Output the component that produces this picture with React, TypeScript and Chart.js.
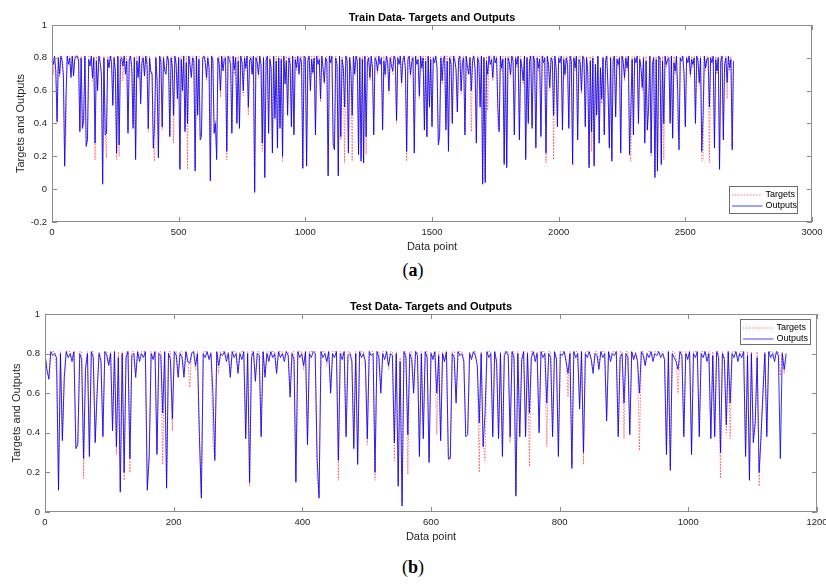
import React, { useEffect, useRef } from "react";
import { Chart, registerables } from "chart.js";

Chart.register(...registerables);

// ---------- DATA ----------
const seriesLabels = ["Targets", "Outputs"];
const xAxisTitle = "Data point";
const yAxisTitle = "Targets and Outputs";
const trainTitle = "Train Data- Targets and Outputs";
const testTitle = "Test Data- Targets and Outputs";

const trainXTicks = [0, 500, 1000, 1500, 2000, 2500, 3000];
const trainYTicks = [-0.2, 0, 0.2, 0.4, 0.6, 0.8, 1];
const testXTicks = [0, 200, 400, 600, 800, 1000, 1200];
const testYTicks = [0, 0.2, 0.4, 0.6, 0.8, 1];

// one value every TRAIN_STEP data points
const TRAIN_STEP = 5;
const trainOutputs = [
  .8,.76,.81,.72,.41,.8,.7,.81,.78,.69,.14,.55,.81,.76,.8,.68,.81,.69,.79,.81,
  .81,.78,.35,.8,.37,.42,.81,.26,.3,.79,.75,.81,.68,.8,.28,.78,.6,.81,.77,.7,
  .03,.8,.33,.34,.79,.74,.81,.77,.51,.8,.72,.22,.81,.27,.79,.8,.75,.81,.7,.78,
  .34,.79,.81,.74,.37,.8,.18,.78,.68,.81,.52,.77,.8,.69,.81,.76,.37,.8,.72,.7,
  .25,.4,.8,.66,.19,.81,.77,.38,.8,.72,.7,.81,.78,.32,.8,.74,.45,.81,.76,.55,
  .8,.12,.79,.6,.81,.35,.77,.4,.81,.75,.68,.8,.78,.11,.81,.45,.79,.3,.32,.8,
  .81,.77,.68,.8,.74,.05,.81,.78,.34,.4,.18,.8,.76,.6,.81,.72,.79,.8,.23,.81,
  .79,.76,.34,.81,.73,.8,.4,.78,.37,.81,.77,.6,.8,.74,.81,.5,.78,.8,.7,.81,
  -.02,.8,.77,.7,.81,.76,.28,.8,.07,.78,.81,.34,.79,.74,.22,.81,.43,.78,.25,.8,
  .37,.79,.2,.81,.64,.78,.45,.8,.76,.38,.81,.33,.79,.74,.81,.7,.8,.77,.13,.81,
  .8,.14,.78,.81,.6,.79,.71,.8,.33,.81,.76,.79,.55,.81,.74,.65,.8,.78,.08,.81,
  .77,.81,.28,.24,.8,.76,.08,.81,.32,.79,.74,.5,.81,.78,.22,.8,.72,.45,.81,.7,
  .81,.78,.21,.8,.17,.79,.16,.81,.32,.77,.8,.68,.81,.74,.33,.8,.78,.72,.81,.76,
  .8,.36,.78,.7,.81,.77,.6,.8,.75,.72,.81,.79,.42,.8,.76,.81,.65,.78,.81,.74,
  .23,.79,.81,.7,.77,.8,.22,.81,.76,.79,.57,.81,.74,.8,.36,.78,.32,.81,.5,.79,
  .38,.8,.77,.81,.74,.27,.32,.8,.66,.79,.81,.36,.78,.23,.8,.76,.4,.81,.78,.73,
  .47,.79,.81,.6,.77,.8,.33,.81,.75,.7,.8,.6,.78,.81,.74,.28,.8,.77,.5,.81,
  .03,.8,.04,.78,.7,.81,.76,.79,.68,.81,.77,.8,.5,.35,.81,.74,.79,.15,.8,.13,
  .8,.77,.7,.81,.78,.33,.8,.76,.81,.3,.79,.74,.66,.81,.18,.8,.4,.78,.81,.37,
  .81,.78,.25,.8,.74,.79,.32,.81,.77,.8,.22,.81,.76,.62,.8,.78,.45,.81,.74,.38,
  .8,.77,.81,.36,.79,.7,.8,.76,.37,.81,.78,.15,.8,.74,.81,.3,.79,.77,.6,.81,
  .79,.38,.8,.72,.13,.78,.35,.8,.14,.76,.45,.81,.28,.74,.55,.8,.33,.78,.81,.6,
  .25,.8,.17,.78,.81,.44,.79,.76,.8,.22,.81,.77,.68,.8,.74,.81,.21,.5,.79,.33,
  .8,.77,.81,.4,.79,.74,.62,.8,.28,.78,.36,.5,.81,.22,.76,.8,.07,.79,.11,.81,
  .8,.15,.78,.4,.81,.76,.79,.8,.4,.81,.31,.77,.72,.81,.6,.24,.8,.78,.81,.7,
  .38,.8,.77,.81,.7,.79,.76,.8,.4,.81,.78,.65,.8,.23,.45,.81,.74,.79,.8,.5,
  .8,.77,.81,.25,.79,.72,.8,.12,.78,.81,.3,.76,.8,.65,.81,.74,.79,.24,.78,
];
const trainTargets = [
  .81,.7,.81,.72,.43,.81,.68,.81,.81,.7,.16,.32,.81,.81,.81,.7,.81,.7,.81,.81,
  .81,.81,.36,.81,.38,.4,.81,.27,.3,.81,.81,.81,.66,.81,.18,.81,.62,.81,.81,.7,
  .05,.81,.35,.19,.81,.74,.81,.81,.53,.81,.7,.18,.81,.2,.81,.81,.66,.81,.72,.81,
  .36,.81,.81,.72,.4,.81,.2,.81,.7,.81,.55,.81,.81,.7,.81,.81,.35,.81,.7,.71,
  .27,.17,.81,.62,.2,.81,.81,.36,.81,.74,.72,.81,.81,.33,.81,.81,.28,.81,.8,.58,
  .81,.14,.81,.62,.81,.37,.81,.12,.81,.81,.7,.81,.81,.13,.81,.47,.81,.32,.36,.81,
  .81,.81,.66,.81,.72,.07,.81,.81,.35,.42,.22,.81,.81,.56,.81,.74,.81,.81,.18,.81,
  .81,.81,.36,.81,.7,.81,.42,.81,.38,.81,.81,.57,.81,.72,.81,.45,.81,.81,.7,.81,
  0,.81,.81,.68,.81,.74,.23,.81,.09,.81,.81,.36,.81,.72,.24,.81,.45,.81,.27,.81,
  .39,.81,.17,.81,.66,.81,.47,.81,.81,.4,.81,.35,.81,.72,.81,.72,.81,.81,.12,.81,
  .81,.16,.81,.81,.62,.81,.7,.81,.35,.81,.81,.81,.53,.81,.72,.64,.81,.81,.1,.81,
  .81,.81,.26,.24,.81,.75,.1,.81,.3,.81,.72,.16,.81,.81,.24,.81,.7,.17,.81,.72,
  .81,.81,.23,.81,.19,.81,.16,.81,.21,.81,.81,.66,.81,.72,.35,.81,.81,.7,.81,.81,
  .81,.38,.81,.68,.81,.81,.58,.81,.81,.7,.81,.81,.4,.81,.81,.81,.63,.81,.81,.72,
  .17,.81,.81,.68,.81,.81,.25,.81,.81,.81,.55,.81,.72,.81,.38,.81,.32,.81,.52,.81,
  .4,.81,.81,.81,.72,.29,.34,.81,.64,.81,.81,.4,.81,.25,.81,.81,.42,.81,.81,.7,
  .49,.81,.81,.58,.81,.81,.35,.81,.72,.7,.81,.35,.81,.81,.72,.3,.81,.81,.52,.81,
  .05,.81,.06,.81,.48,.81,.81,.81,.66,.81,.81,.81,.37,.36,.81,.72,.81,.17,.81,.15,
  .81,.81,.68,.81,.81,.35,.81,.74,.81,.32,.81,.72,.64,.81,.2,.81,.42,.81,.81,.39,
  .81,.81,.27,.81,.72,.81,.34,.81,.81,.81,.16,.81,.74,.6,.81,.81,.18,.81,.72,.4,
  .81,.81,.81,.38,.81,.68,.81,.81,.39,.81,.81,.17,.81,.72,.81,.32,.81,.81,.58,.81,
  .81,.4,.81,.7,.15,.81,.23,.81,.16,.74,.47,.81,.3,.72,.52,.81,.35,.81,.81,.62,
  .27,.81,.19,.81,.81,.46,.81,.74,.81,.24,.81,.81,.66,.81,.72,.81,.22,.17,.81,.35,
  .81,.81,.81,.42,.81,.72,.6,.81,.3,.81,.36,.48,.81,.2,.74,.81,.09,.81,.13,.81,
  .81,.17,.81,.18,.81,.74,.81,.81,.42,.81,.33,.81,.7,.81,.37,.3,.81,.81,.81,.68,
  .4,.81,.81,.81,.68,.81,.74,.81,.42,.81,.81,.63,.81,.17,.18,.81,.72,.81,.81,.16,
  .81,.81,.81,.27,.81,.7,.81,.14,.81,.81,.32,.74,.81,.55,.81,.72,.81,.26,.76,
];

// one value every TEST_STEP data points
const TEST_STEP = 3;
const testOutputs = [
  .8,.72,.67,.81,.79,.8,.78,.11,.8,.36,.68,.81,.78,.8,.76,.81,.32,.34,.8,.77,
  .27,.72,.8,.28,.81,.78,.35,.6,.8,.76,.38,.81,.79,.74,.8,.41,.81,.33,.78,.1,
  .8,.2,.78,.81,.27,.79,.8,.68,.81,.76,.8,.78,.81,.11,.28,.8,.77,.81,.29,.8,
  .79,.5,.81,.12,.8,.77,.47,.81,.79,.68,.8,.78,.68,.81,.76,.75,.8,.81,.74,.8,
  .38,.07,.8,.78,.81,.77,.8,.6,.26,.81,.74,.8,.79,.81,.76,.8,.68,.81,.78,.8,
  .7,.8,.77,.81,.37,.8,.15,.78,.81,.66,.8,.79,.38,.81,.68,.8,.76,.81,.78,.8,
  .7,.81,.78,.8,.76,.81,.79,.58,.8,.77,.15,.81,.78,.8,.74,.81,.34,.8,.78,.81,
  .8,.27,.07,.81,.78,.8,.76,.81,.6,.8,.78,.81,.26,.8,.77,.81,.38,.79,.8,.76,
  .32,.8,.24,.81,.78,.8,.76,.37,.81,.79,.8,.2,.81,.78,.6,.8,.77,.81,.74,.8,
  .79,.35,.8,.13,.76,.03,.81,.78,.39,.8,.77,.6,.81,.79,.28,.8,.37,.81,.78,.25,
  .8,.77,.81,.6,.79,.36,.8,.76,.81,.27,.27,.8,.78,.55,.81,.79,.8,.76,.38,.39,
  .8,.77,.81,.79,.74,.45,.8,.33,.5,.81,.78,.8,.38,.81,.76,.37,.8,.28,.79,.81,
  .79,.38,.81,.78,.08,.8,.38,.77,.81,.38,.8,.5,.78,.81,.76,.8,.4,.81,.78,.8,
  .55,.8,.78,.38,.81,.77,.28,.8,.79,.81,.76,.7,.8,.22,.81,.78,.8,.52,.81,.3,
  .8,.78,.81,.77,.7,.8,.79,.72,.81,.78,.8,.46,.81,.76,.8,.79,.81,.38,.78,.8,
  .55,.8,.78,.39,.81,.77,.8,.76,.6,.81,.79,.74,.8,.78,.81,.76,.8,.79,.81,.78,
  .8,.77,.29,.81,.21,.8,.78,.76,.72,.81,.79,.38,.8,.77,.81,.29,.8,.78,.81,.38,
  .8,.78,.81,.76,.8,.37,.79,.38,.81,.78,.3,.8,.77,.44,.81,.55,.8,.78,.81,.76,
  .8,.78,.81,.28,.79,.16,.8,.35,.45,.78,.2,.38,.6,.8,.38,.81,.78,.8,.76,.81,
  .79,.27,.8,.72,.8,
];
const testTargets = [
  .81,.7,.68,.81,.81,.81,.7,.13,.81,.38,.7,.81,.81,.81,.78,.81,.33,.35,.81,.81,
  .17,.74,.81,.3,.81,.81,.36,.62,.81,.78,.39,.81,.81,.75,.81,.43,.81,.29,.81,.12,
  .81,.16,.81,.81,.2,.81,.81,.7,.81,.78,.81,.81,.81,.13,.3,.81,.78,.81,.31,.81,
  .81,.24,.81,.14,.81,.81,.41,.81,.81,.7,.81,.81,.7,.81,.78,.63,.81,.81,.72,.81,
  .4,.09,.81,.81,.81,.78,.81,.35,.28,.81,.7,.81,.81,.81,.78,.81,.7,.81,.81,.81,
  .72,.81,.81,.81,.39,.81,.13,.81,.81,.68,.81,.81,.4,.81,.7,.81,.78,.81,.81,.81,
  .72,.81,.81,.81,.78,.81,.81,.6,.81,.81,.17,.81,.81,.81,.72,.81,.36,.81,.81,.81,
  .81,.17,.09,.81,.81,.81,.74,.81,.62,.81,.81,.81,.16,.81,.79,.81,.4,.81,.81,.78,
  .34,.81,.26,.81,.81,.81,.72,.34,.81,.81,.81,.16,.81,.81,.62,.81,.81,.81,.72,.81,
  .81,.26,.81,.15,.78,.05,.81,.81,.19,.81,.81,.62,.81,.81,.3,.81,.39,.81,.81,.27,
  .81,.78,.81,.39,.81,.38,.81,.76,.81,.26,.29,.81,.81,.57,.81,.81,.81,.78,.4,.41,
  .81,.78,.81,.81,.72,.2,.81,.35,.26,.81,.81,.81,.4,.81,.74,.39,.81,.3,.81,.81,
  .81,.35,.81,.81,.1,.81,.4,.76,.81,.4,.81,.23,.81,.81,.78,.81,.42,.81,.81,.81,
  .33,.81,.81,.4,.81,.78,.3,.81,.81,.81,.78,.58,.81,.24,.81,.81,.81,.54,.81,.24,
  .81,.81,.81,.78,.72,.81,.81,.74,.81,.81,.81,.48,.81,.78,.81,.81,.81,.4,.81,.81,
  .37,.81,.81,.41,.81,.78,.81,.78,.31,.81,.81,.74,.81,.81,.81,.78,.81,.81,.81,.8,
  .81,.78,.31,.81,.23,.81,.81,.78,.6,.81,.81,.4,.81,.78,.81,.31,.81,.81,.81,.4,
  .81,.81,.81,.78,.81,.39,.81,.4,.81,.81,.17,.81,.78,.4,.81,.37,.81,.81,.81,.78,
  .81,.81,.81,.3,.81,.18,.81,.37,.47,.81,.13,.4,.62,.81,.4,.81,.81,.81,.78,.81,
  .81,.69,.81,.7,.78,
];

// ---------- STYLE ----------
const FONT = '"Liberation Sans", Arial, Helvetica, sans-serif';
const FRAME = "#8c8c8c";
const TEXT = "#262626";
const TARGET_COLOR = "rgba(255,30,30,0.6)";
const OUTPUT_COLOR = "rgba(0,0,255,0.82)";
const LEGEND_OUTPUT_COLOR = "rgb(70,70,255)";
const LEGEND_TARGET_COLOR = "rgb(255,120,120)";
const TARGET_DASH = [1.5, 1.5];
const LINE_W = 1;

type LegendCfg = { corner: "br" | "tr"; mx: number; my: number; w: number; h: number };

const framePlugin = {
  id: "matlabFrame",
  afterDraw(chart: any, _args: any, opts: any) {
    const { ctx, chartArea: a } = chart;
    const xs = chart.scales.x;
    const ys = chart.scales.y;
    ctx.save();
    ctx.setLineDash([]);
    // box
    ctx.strokeStyle = FRAME;
    ctx.lineWidth = 1;
    ctx.strokeRect(a.left + 0.5, a.top + 0.5, a.right - a.left - 1, a.bottom - a.top - 1);
    // inward ticks on all sides
    const tl = 5;
    ctx.beginPath();
    xs.ticks.forEach((t: any) => {
      const px = Math.round(xs.getPixelForValue(t.value)) + 0.5;
      ctx.moveTo(px, a.bottom);
      ctx.lineTo(px, a.bottom - tl);
      ctx.moveTo(px, a.top);
      ctx.lineTo(px, a.top + tl);
    });
    ys.ticks.forEach((t: any) => {
      const py = Math.round(ys.getPixelForValue(t.value)) + 0.5;
      ctx.moveTo(a.left, py);
      ctx.lineTo(a.left + tl, py);
      ctx.moveTo(a.right, py);
      ctx.lineTo(a.right - tl, py);
    });
    ctx.stroke();
    // title
    ctx.fillStyle = "#000";
    ctx.font = `bold 11px ${FONT}`;
    ctx.textAlign = "center";
    ctx.textBaseline = "middle";
    ctx.fillText(opts.title, (a.left + a.right) / 2, a.top - 7.5);
    // legend
    const lg: LegendCfg = opts.legend;
    const bx = Math.round(a.right - lg.mx - lg.w) + 0.5;
    const by = Math.round(lg.corner === "br" ? a.bottom - lg.my - lg.h : a.top + lg.my) + 0.5;
    ctx.fillStyle = "#fff";
    ctx.fillRect(bx, by, lg.w, lg.h);
    ctx.strokeStyle = "#6e6e6e";
    ctx.lineWidth = 1;
    ctx.strokeRect(bx, by, lg.w, lg.h);
    const rows = [8, 19];
    const styles = [
      { color: LEGEND_TARGET_COLOR, dash: TARGET_DASH },
      { color: LEGEND_OUTPUT_COLOR, dash: [] as number[] },
    ];
    seriesLabels.forEach((label, i) => {
      const y = Math.round(by + rows[i]);
      ctx.save();
      ctx.strokeStyle = styles[i].color;
      ctx.lineWidth = 1;
      ctx.setLineDash(styles[i].dash);
      ctx.beginPath();
      ctx.moveTo(bx + 2.5, y);
      ctx.lineTo(bx + 33, y);
      ctx.stroke();
      ctx.restore();
      ctx.fillStyle = "#000";
      ctx.font = `9px ${FONT}`;
      ctx.textAlign = "left";
      ctx.textBaseline = "middle";
      ctx.fillText(label, bx + 36, y);
    });
    ctx.restore();
  },
};

type PanelProps = {
  top: number;
  outputs: number[];
  targets: number[];
  step: number;
  xTicks: number[];
  yTicks: number[];
  title: string;
  padTop: number;
  padRight: number;
  yWidth: number;
  yTitlePad: number;
  legend: LegendCfg;
};

function Panel(p: PanelProps) {
  const ref = useRef<HTMLCanvasElement | null>(null);
  useEffect(() => {
    if (!ref.current) return;
    const toPoints = (vals: number[]) => vals.map((y, i) => ({ x: i * p.step, y }));
    const yFmt = (v: any) => String(Math.round(Number(v) * 10) / 10);
    const chart = new Chart(ref.current, {
      type: "line",
      data: {
        datasets: [
          {
            label: seriesLabels[0],
            data: toPoints(p.targets),
            borderColor: TARGET_COLOR,
            borderDash: TARGET_DASH,
            borderWidth: LINE_W,
            pointRadius: 0,
            tension: 0,
            order: 2,
          },
          {
            label: seriesLabels[1],
            data: toPoints(p.outputs),
            borderColor: OUTPUT_COLOR,
            borderWidth: LINE_W,
            pointRadius: 0,
            tension: 0,
            order: 1,
          },
        ],
      },
      options: {
        responsive: false,
        animation: false,
        devicePixelRatio: 1,
        layout: { padding: { left: 0, right: p.padRight, top: p.padTop, bottom: 0 } },
        plugins: {
          legend: { display: false },
          tooltip: { enabled: false },
          title: { display: false },
          matlabFrame: { title: p.title, legend: p.legend },
        } as any,
        scales: {
          x: {
            type: "linear",
            min: p.xTicks[0],
            max: p.xTicks[p.xTicks.length - 1],
            afterBuildTicks: (s: any) => {
              s.ticks = p.xTicks.map((v) => ({ value: v }));
            },
            afterFit: (s: any) => {
              s.height = 36;
              s.paddingLeft = 0;
              s.paddingRight = 0;
            },
            grid: { display: false, drawTicks: false },
            border: { display: false },
            ticks: {
              padding: 5,
              autoSkip: false,
              maxRotation: 0,
              color: TEXT,
              font: { family: FONT, size: 9.5 },
              callback: (v: any) => String(v),
            },
            title: {
              display: true,
              text: xAxisTitle,
              color: TEXT,
              font: { family: FONT, size: 11 },
              padding: { top: 0, bottom: 4 },
            },
          },
          y: {
            type: "linear",
            min: p.yTicks[0],
            max: p.yTicks[p.yTicks.length - 1],
            afterBuildTicks: (s: any) => {
              s.ticks = p.yTicks.map((v) => ({ value: v }));
            },
            afterFit: (s: any) => {
              s.width = p.yWidth;
              s.paddingTop = 0;
              s.paddingBottom = 0;
            },
            grid: { display: false, drawTicks: false },
            border: { display: false },
            ticks: {
              padding: 5,
              autoSkip: false,
              color: TEXT,
              font: { family: FONT, size: 9.5 },
              callback: yFmt,
            },
            title: {
              display: true,
              text: yAxisTitle,
              color: TEXT,
              font: { family: FONT, size: 11 },
              padding: { top: p.yTitlePad, bottom: 0 },
            },
          },
        },
      } as any,
      plugins: [framePlugin],
    });
    return () => chart.destroy();
  }, []);
  return (
    <canvas
      ref={ref}
      width={826}
      height={258}
      style={{ position: "absolute", left: 0, top: p.top, width: 826, height: 258 }}
    />
  );
}

function Caption({ top, letter }: { top: number; letter: string }) {
  return (
    <div
      style={{
        position: "absolute",
        left: 0,
        top,
        width: 826,
        textAlign: "center",
        fontFamily: '"Liberation Serif", "Times New Roman", serif',
        fontSize: 18,
        lineHeight: "22px",
        color: "#000",
      }}
    >
      (<b>{letter}</b>)
    </div>
  );
}

export default function App() {
  return (
    <div
      style={{
        position: "absolute",
        left: 0,
        top: 0,
        width: 826,
        height: 585,
        background: "#fff",
        overflow: "hidden",
      }}
    >
      <Panel
        top={0}
        outputs={trainOutputs}
        targets={trainTargets}
        step={TRAIN_STEP}
        xTicks={trainXTicks}
        yTicks={trainYTicks}
        title={trainTitle}
        padTop={25}
        padRight={14}
        yWidth={52}
        yTitlePad={14}
        legend={{ corner: "br", mx: 15, my: 9, w: 68, h: 27 }}
      />
      <Caption top={259} letter="a" />
      <Panel
        top={290}
        outputs={testOutputs}
        targets={testTargets}
        step={TEST_STEP}
        xTicks={testXTicks}
        yTicks={testYTicks}
        title={testTitle}
        padTop={24}
        padRight={9}
        yWidth={45}
        yTitlePad={10}
        legend={{ corner: "tr", mx: 7, my: 5, w: 70, h: 25 }}
      />
      <Caption top={556} letter="b" />
    </div>
  );
}
